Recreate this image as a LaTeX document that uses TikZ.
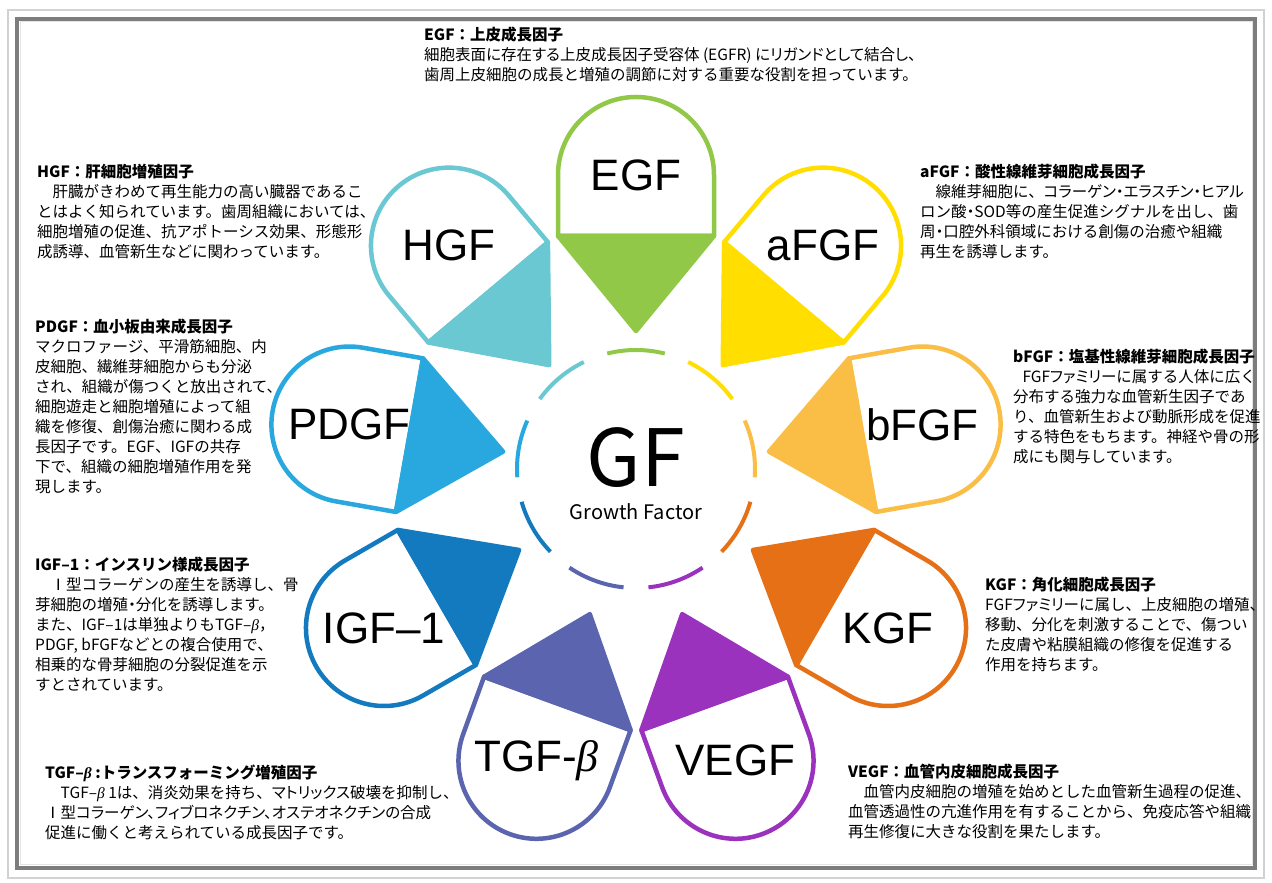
\documentclass[tikz,border=0pt]{standalone}
\usepackage{fontspec}
\setmainfont{Noto Sans CJK JP}
\newfontfamily\labfont{Liberation Sans}
\newfontfamily\grkfont{Liberation Serif}
\newcommand{\gbeta}{{\grkfont\itshape β}}
\newcommand{\pk}[1]{{\addfontfeatures{RawFeature=+palt}#1}}
\definecolor{cEGF}{RGB}{146,200,72}
\definecolor{caFGF}{RGB}{255,222,0}
\definecolor{cbFGF}{RGB}{250,190,70}
\definecolor{cKGF}{RGB}{230,112,22}
\definecolor{cVEGF}{RGB}{155,50,190}
\definecolor{cTGF}{RGB}{90,100,175}
\definecolor{cIGF}{RGB}{20,122,192}
\definecolor{cPDGF}{RGB}{40,168,222}
\definecolor{cHGF}{RGB}{105,200,210}
\definecolor{frameouter}{RGB}{210,210,210}
\definecolor{frameinner}{RGB}{125,125,125}
\newcommand{\pw}{78}
\newcommand{\pb}{-61}
\newcommand{\ptip}{-156}
% #1 angle, #2 colour, #3 name, #4 label
\newcommand{\gfpetal}[4]{%
  \begin{scope}[shift={(636,406)}, shift={(#1:291 and 302)}, rotate=#1-90]
    \filldraw[petalline, draw=#2, fill=white] (-\pw,\pb) -- (-\pw,0) arc[start angle=180, end angle=0, radius=\pw] -- (\pw,\pb) -- cycle;
    \filldraw[petalline, draw=#2, fill=#2] (-\pw,\pb) -- (0,\ptip) -- (\pw,\pb) -- cycle;
    \node[petallabel] (#3) at (0,0) {#4};
  \end{scope}
  \draw[ringarc, draw=#2] (636,414) ++(#1-14:119) arc[start angle=#1-14, end angle=#1+14, radius=119];
}
\begin{document}
\begin{tikzpicture}[x=1pt,y=1pt,
  petalline/.style={line width=4.5pt, line join=round},
  petallabel/.style={font=\labfont\fontsize{44}{44}\selectfont, inner sep=0pt},
  ringarc/.style={line width=4pt},
  desc/.style={anchor=north west, align=left, inner sep=0pt, font=\fontsize{15.5}{20}\selectfont}]
\useasboundingbox (0,0) rectangle (1272,883);
\fill[white] (0,0) rectangle (1272,883);
\draw[frameouter, line width=2pt] (8,873) rectangle (1264,5);
\draw[frameinner, line width=4pt] (17,864) rectangle (1255,15);
\draw[frameouter!60, line width=1pt] (20,861) rectangle (1252,18);

\gfpetal{90}{cEGF}{pEGF}{EGF}
\gfpetal{50}{caFGF}{paFGF}{aFGF}
\gfpetal{10}{cbFGF}{pbFGF}{bFGF}
\gfpetal{-30}{cKGF}{pKGF}{KGF}
\gfpetal{-70}{cVEGF}{pVEGF}{VEGF}
\gfpetal{-110}{cTGF}{pTGF}{TGF-\gbeta}
\gfpetal{-150}{cIGF}{pIGF}{IGF–1}
\gfpetal{170}{cPDGF}{pPDGF}{PDGF}
\gfpetal{130}{cHGF}{pHGF}{HGF}

\node[font=\fontsize{79}{79}\selectfont, inner sep=0pt] (gf) at (636,425) {GF};
\node[font=\fontsize{20}{20}\selectfont, inner sep=0pt] (gfsub) at (636,371) {Growth Factor};

\node[desc] (tEGF) at (424,856) {{\bfseries EGF：上皮成長因子}\\
\pk{細胞表面に存在する上皮成長因子受容体 (EGFR) にリガンドとして結合し、}\\
歯周上皮細胞の成長と増殖の調節に対する重要な役割を担っています。};

\node[desc] (tHGF) at (37,719) {{\bfseries HGF：肝細胞増殖因子}\\
　肝臓がきわめて再生能力の高い臓器であるこ\\
とはよく知られています。歯周組織においては、\\
細胞増殖の促進、抗アポトーシス効果、形態形\\
成誘導、血管新生などに関わっています。};

\node[desc] (taFGF) at (920,719) {{\bfseries aFGF：酸性線維芽細胞成長因子}\\
　線維芽細胞に、\pk{コラーゲン・エラスチン・ヒアル}\\
ロン酸\pk{・}SOD等の産生促進シグナルを出し、歯\\
周\pk{・}口腔外科領域における創傷の治癒や組織\\
再生を誘導します。};

\node[desc] (tPDGF) at (35,564) {{\bfseries PDGF：血小板由来成長因子}\\
マクロファージ、平滑筋細胞、内\\
皮細胞、繊維芽細胞からも分泌\\
され、組織が傷つくと放出されて、\\
細胞遊走と細胞増殖によって組\\
織を修復、創傷治癒に関わる成\\
長因子です。EGF、IGFの共存\\
下で、組織の細胞増殖作用を発\\
現します。};

\node[desc] (tbFGF) at (1013,534) {{\bfseries bFGF：塩基性線維芽細胞成長因子}\\
\hspace*{0.6em}FGF\pk{ファミリー}に属する人体に広く\\
分布する強力な血管新生因子であ\\
り、血管新生および動脈形成を促進\\
する特色をもちます。神経や骨の形\\
成にも関与しています。};

\node[desc] (tIGF) at (35,326) {{\bfseries IGF–1：インスリン様成長因子}\\
　Ⅰ型コラーゲンの産生を誘導し、骨\\
芽細胞の増殖\pk{・}分化を誘導します。\\
また、IGF–1は単独よりもTGF–\gbeta，\\
PDGF, bFGFなどとの複合使用で、\\
相乗的な骨芽細胞の分裂促進を示\\
すとされています。};

\node[desc] (tKGF) at (985,306) {{\bfseries KGF：角化細胞成長因子}\\
FGF\pk{ファミリー}に属し、上皮細胞の増殖、\\
移動、分化を刺激することで、傷つい\\
た皮膚や粘膜組織の修復を促進する\\
作用を持ちます。};

\node[desc] (tTGF) at (45,118) {{\bfseries TGF–\gbeta\ :トランスフォーミング増殖因子}\\
　TGF–\gbeta\ 1は、消炎効果を持ち、\pk{マトリックス}破壊を抑制し、\\
\pk{Ⅰ型コラーゲン、フィブロネクチン、オステオネクチンの合成}\\
促進に働くと考えられている成長因子です。};

\node[desc] (tVEGF) at (848,119) {{\bfseries VEGF：血管内皮細胞成長因子}\\
　血管内皮細胞の増殖を始めとした血管新生過程の促進、\\
血管透過性の亢進作用を有することから、免疫応答や組織\\
再生修復に大きな役割を果たします。};
\end{tikzpicture}
\end{document}
